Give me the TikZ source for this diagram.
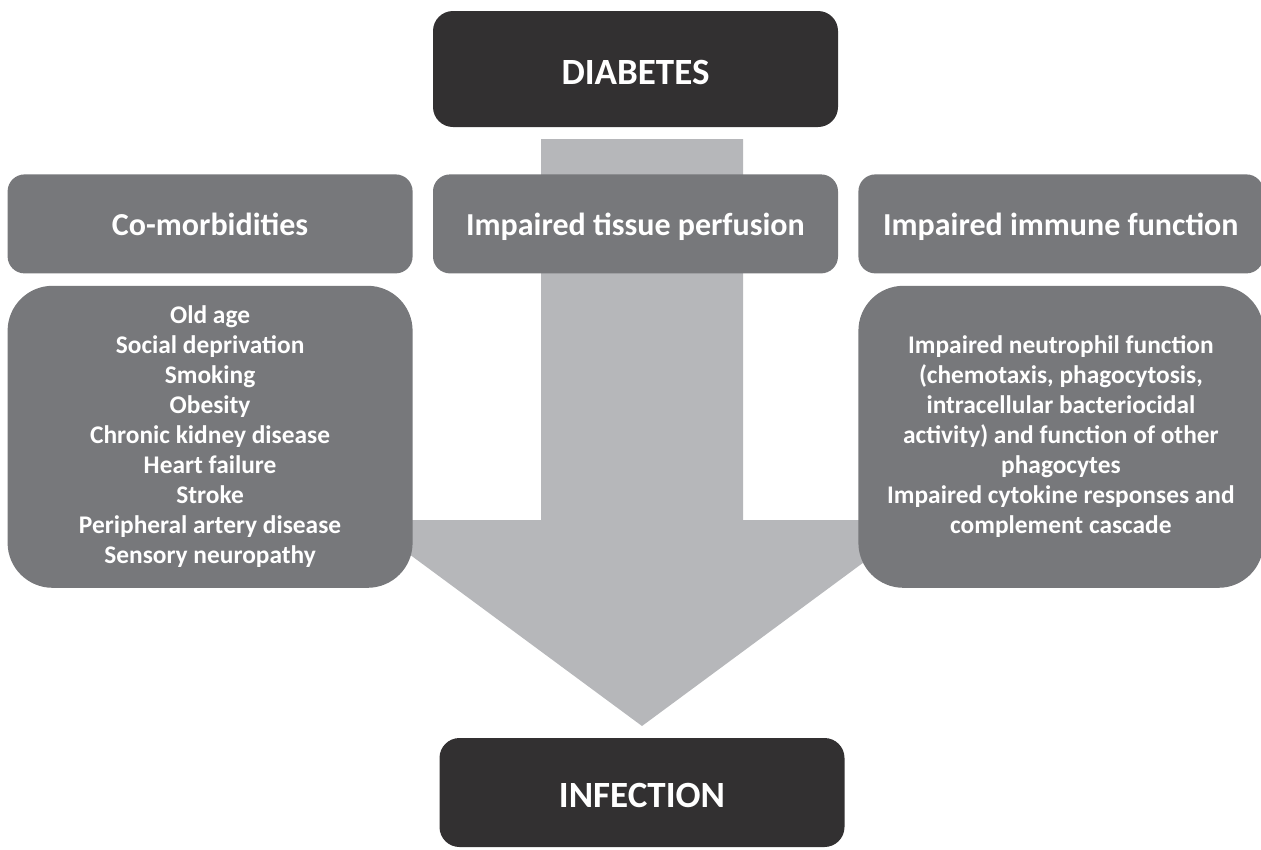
\documentclass[tikz,border=0pt]{standalone}
\usepackage{fontspec}
\setmainfont{Carlito}
\usepackage{tikz}
\usetikzlibrary{positioning}

\definecolor{boxdark}{RGB}{50,48,49}
\definecolor{boxgray}{RGB}{119,120,123}
\definecolor{arrowgray}{RGB}{182,183,186}

\begin{document}
\begin{tikzpicture}[x=1pt, y=-1pt,
    every node/.style={text=white, font=\bfseries, align=center, inner sep=0pt},
    endbox/.style={rectangle, fill=boxdark, rounded corners=20pt, minimum width=405pt, minimum height=116pt, text height=30pt, text depth=0pt, font=\bfseries\fontsize{37}{44}\selectfont},
    headbox/.style={rectangle, fill=boxgray, rounded corners=17pt, minimum width=405pt, minimum height=99pt, text height=23.6pt, text depth=0pt, font=\bfseries\fontsize{32}{38}\selectfont},
    listbox/.style={rectangle, fill=boxgray, rounded corners=45pt, minimum width=405pt, minimum height=302pt, font=\bfseries\fontsize{25.4}{30}\selectfont}]

    \useasboundingbox (0,0) rectangle (1261,849);

    % broad arrow behind everything
    \fill[arrowgray] (541,139) -- (743,139) -- (743,520) -- (921,520)
        -- (642,726) -- (363,520) -- (541,520) -- cycle;

    \node[endbox] (diab) at (635.5,69) {DIABETES};
    \node[headbox, below=47pt of diab] (tissue) {Impaired tissue perfusion};
    \node[headbox, left=20pt of tissue] (comorb) {Co-morbidities};
    \node[headbox, right=20pt of tissue] (immune) {Impaired immune function};

    \node[listbox, below=12pt of comorb] (comlist) {Old age\\Social deprivation\\Smoking\\Obesity\\Chronic kidney disease\\Heart failure\\Stroke\\Peripheral artery disease\\Sensory neuropathy};
    \node[listbox, below=12pt of immune] (immlist) {Impaired neutrophil function\\(chemotaxis, phagocytosis,\\intracellular bacteriocidal\\activity) and function of other\\phagocytes\\Impaired cytokine responses and\\complement cascade};

    \node[endbox, minimum height=109pt] (infect) at (642,792.5) {INFECTION};
\end{tikzpicture}
\end{document}
